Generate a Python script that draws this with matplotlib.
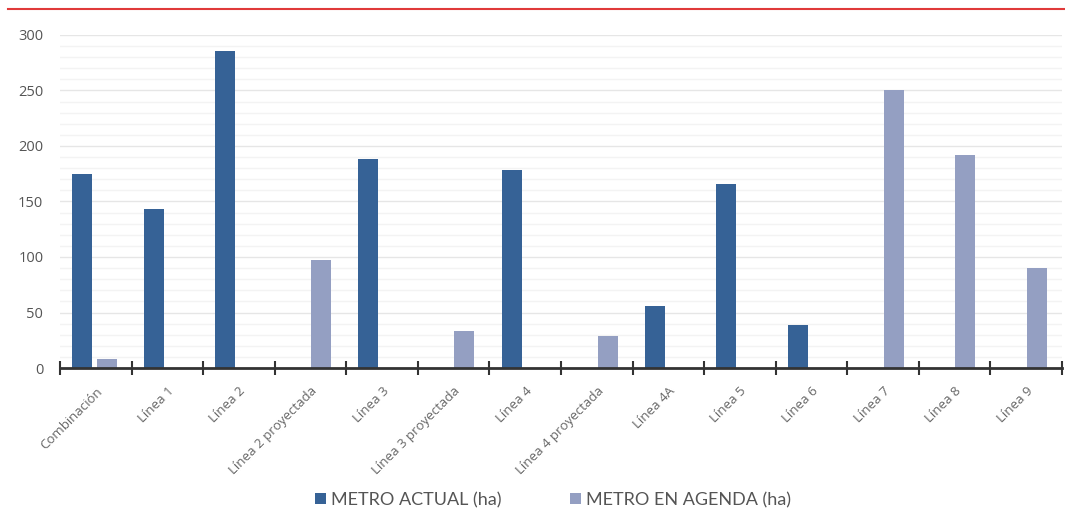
import numpy as np
import matplotlib.pyplot as plt
from matplotlib.lines import Line2D
from matplotlib.ticker import MultipleLocator

categories = ["Combinación", "Línea 1", "Línea 2", "Línea 2 proyectada", "Línea 3",
              "Línea 3 proyectada", "Línea 4", "Línea 4 proyectada", "Línea 4A",
              "Línea 5", "Línea 6", "Línea 7", "Línea 8", "Línea 9"]
metro_actual = [175, 143, 286, 0, 188, 0, 178, 0, 56, 166, 39, 0, 0, 0]
metro_agenda = [8, 0, 0, 97, 0, 33, 0, 29, 0, 0, 0, 250, 192, 90]
series_names = ["METRO ACTUAL (ha)", "METRO EN AGENDA (ha)"]

plt.rcParams['font.family'] = ['Open Sans', 'DejaVu Sans']

fig = plt.figure(figsize=(10.65, 5.16), dpi=100)
ax = fig.add_axes([60 / 1065, 148 / 516, 1002 / 1065, 333 / 516])

x = np.arange(len(categories))
w = 0.28
ax.bar(x - 0.19, metro_actual, w, color="#366296", label=series_names[0], zorder=3)
ax.bar(x + 0.15, metro_agenda, w, color="#949fc2", label=series_names[1], zorder=3)

ax.set_xlim(-0.5, len(categories) - 0.5)
ax.set_ylim(0, 300)

ax.yaxis.set_major_locator(MultipleLocator(50))
ax.yaxis.set_minor_locator(MultipleLocator(10))
ax.grid(axis='y', which='major', color="#e6e6e6", linewidth=1, zorder=0)
ax.grid(axis='y', which='minor', color="#f3f3f3", linewidth=1, zorder=0)
ax.tick_params(axis='y', which='both', length=0, labelsize=10.5, labelcolor="#555555", pad=12)

ax.set_xticks(x)
ax.set_xticklabels(categories, rotation=45, ha='right', rotation_mode='anchor',
                   fontsize=9.5, color="#666666")
ax.set_xticks(np.arange(len(categories) + 1) - 0.5, minor=True)
ax.tick_params(axis='x', which='major', length=0, pad=12)
ax.tick_params(axis='x', which='minor', length=10, width=1.5, direction='inout', color="#333333")

for s in ['top', 'right', 'left']:
    ax.spines[s].set_visible(False)
ax.spines['bottom'].set_color("#333333")
ax.spines['bottom'].set_linewidth(2)
ax.spines['bottom'].set_zorder(4)

fig.add_artist(Line2D([8 / 1065, 1], [1 - 9 / 516, 1 - 9 / 516], color="#e03a3a", linewidth=1.5))

fig.legend(loc='center', bbox_to_anchor=(553 / 1065, 1 - 500 / 516), ncol=2, frameon=False,
           handlelength=0.6, handleheight=0.6, handletextpad=0.3, columnspacing=3.8,
           prop={'family': 'Lato', 'size': 13}, labelcolor="#555555")

fig.savefig("out.png", dpi=100)
